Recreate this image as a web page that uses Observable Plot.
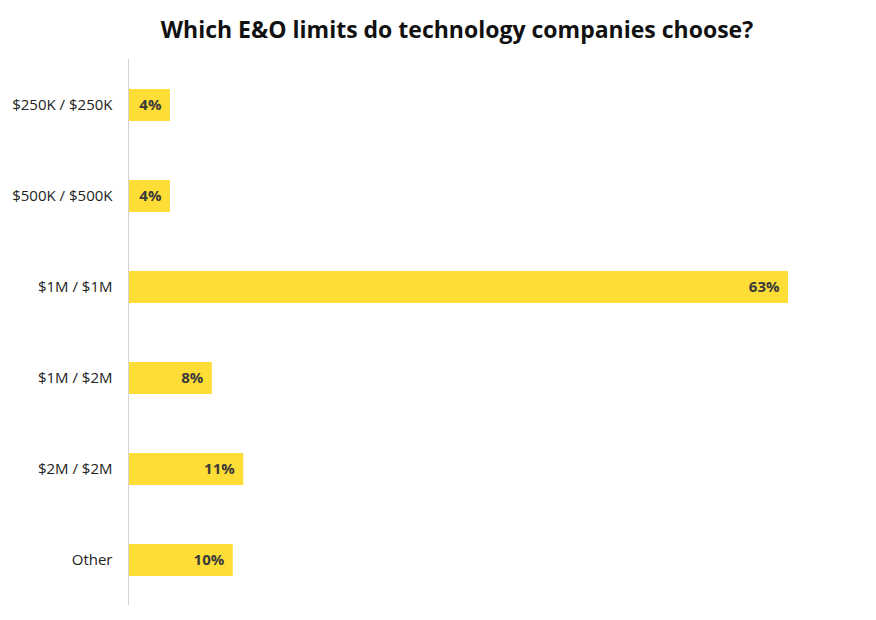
<!DOCTYPE html>
<html><head><meta charset="utf-8">
<script src="https://cdn.jsdelivr.net/npm/d3@7"></script>
<script src="https://cdn.jsdelivr.net/npm/@observablehq/plot@0.6"></script>
<style>
body{margin:0;background:#fff;font-family:"Open Sans",sans-serif;}
#title{height:50px;text-align:center;font-weight:700;font-size:23px;line-height:23px;padding-top:18px;box-sizing:border-box;color:#111;margin:0 0 0 38px;width:838px;}
</style></head><body>
<div id="title">Which E&amp;O limits do technology companies choose?</div>
<div id="chart"></div>
<script>
const categories = ["$250K / $250K", "$500K / $500K", "$1M / $1M", "$1M / $2M", "$2M / $2M", "Other"];
const shares = [4, 4, 63, 8, 11, 10];
const data = categories.map((c, i) => ({category: c, value: shares[i]}));
const chart = Plot.plot({
  width: 876,
  height: 570,
  marginTop: 9,
  marginBottom: 15,
  marginLeft: 128,
  marginRight: 88,
  style: {fontFamily: "Open Sans, sans-serif", fontSize: "15px", color: "#222"},
  x: {domain: [0, 63], axis: null},
  y: {domain: categories, paddingInner: 0.65, paddingOuter: 0.325, label: null, tickSize: 0, tickPadding: 16},
  marks: [
    Plot.barX(data, {x: "value", y: "category", fill: "#fddd36"}),
    Plot.ruleX([0], {stroke: "#d4d4d4"}),
    Plot.text(data, {x: "value", y: "category", text: d => d.value + "%", textAnchor: "end", dx: -9, fontWeight: "bold", fill: "#3a3a3a", fontSize: 15})
  ]
});
document.getElementById("chart").appendChild(chart);
</script>
</body></html>
